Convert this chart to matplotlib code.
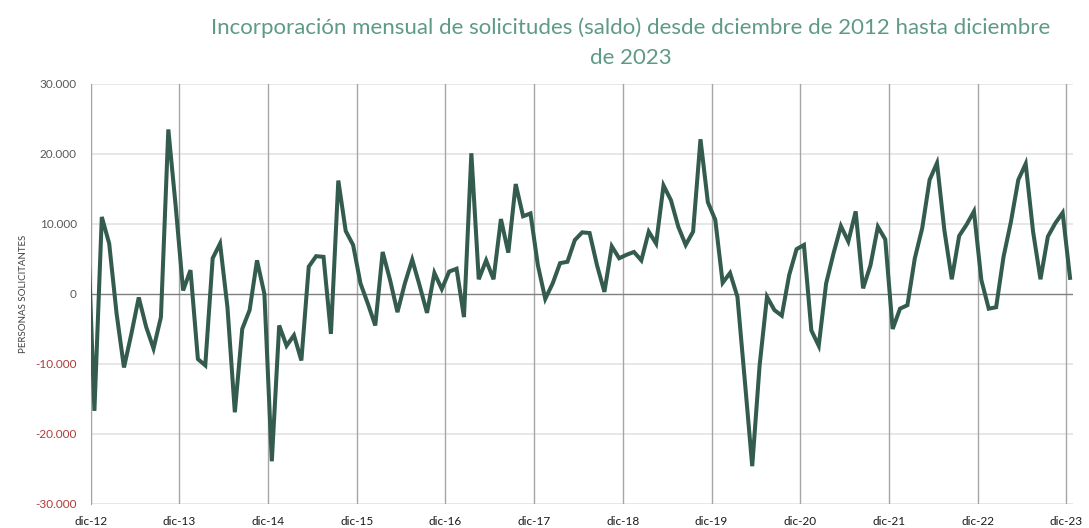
import numpy as np
import matplotlib
matplotlib.use('Agg')
from matplotlib import pyplot as plt
from matplotlib.ticker import FuncFormatter

# saldo mensual (miles de personas), nov-12 .. dic-23
saldo = [
    12.0,
    -16.7, 11.0, 7.2, -2.8, -10.5, -5.7, -0.5, -4.7, -7.8, -3.3, 23.5, 12.5,
    0.5, 3.4, -9.3, -10.2, 5.1, 7.2, -1.9, -16.9, -5.0, -2.3, 4.8, 0.0,
    -23.9, -4.5, -7.4, -5.9, -9.5, 3.9, 5.4, 5.3, -5.7, 16.2, 9.0, 7.0,
    1.5, -1.4, -4.5, 6.0, 2.0, -2.6, 1.5, 4.9, 1.2, -2.7, 3.0, 0.7,
    3.2, 3.6, -3.3, 20.1, 2.1, 4.8, 2.1, 10.7, 5.9, 15.7, 11.1, 11.5,
    4.1, -0.7, 1.5, 4.4, 4.6, 7.7, 8.8, 8.7, 4.1, 0.3, 6.8, 5.1,
    5.6, 6.0, 4.8, 8.9, 7.2, 15.5, 13.4, 9.6, 7.0, 8.9, 22.1, 13.1,
    10.6, 1.6, 3.0, -0.4, -12.4, -24.6, -10.2, -0.4, -2.3, -3.1, 2.7, 6.4,
    7.0, -5.2, -7.4, 1.5, 5.8, 9.7, 7.5, 11.8, 0.8, 4.1, 9.6, 7.8,
    -5.0, -2.1, -1.6, 5.1, 9.4, 16.3, 18.7, 9.1, 2.1, 8.3, 9.9, 11.8,
    2.0, -2.1, -1.9, 5.3, 10.3, 16.3, 18.6, 8.9, 2.1, 8.2, 10.1, 11.6,
    2.3,
]
years = ['dic-12', 'dic-13', 'dic-14', 'dic-15', 'dic-16', 'dic-17',
         'dic-18', 'dic-19', 'dic-20', 'dic-21', 'dic-22', 'dic-23']
yticks = [-30000, -20000, -10000, 0, 10000, 20000, 30000]

vals = np.array(saldo) * 1000
months = np.arange(len(vals))
grid_x = 0.5 + 12 * np.arange(len(years))

plt.rcParams['font.family'] = ['Lato', 'DejaVu Sans']

fig = plt.figure(figsize=(10.89, 5.28), dpi=100)
ax = fig.add_axes([0.0833, 0.0455, 0.902, 0.7955])

for y in yticks:
    if y != 0:
        ax.axhline(y, color='#e3e3e3', lw=1.2, zorder=0)
for gx in grid_x:
    ax.axvline(gx, color='#a6a6a6', lw=1.0, zorder=1)
ax.axhline(0, color='#7f7f7f', lw=1.0, zorder=1)

ax.plot(months, vals, color='#335c4e', lw=2.9, solid_joinstyle='miter', zorder=3)

ax.set_xlim(0.5, 133.4)
ax.set_ylim(-30000, 30000)

ax.set_xticks(grid_x)
ax.set_xticklabels(years)
ax.set_yticks(yticks)

def fmt(v, pos):
    if v == 0:
        return '0'
    return '{:,.0f}'.format(v).replace(',', '.')
ax.yaxis.set_major_formatter(FuncFormatter(fmt))

ax.tick_params(axis='x', length=0, pad=9, labelsize=8.5, colors='#1a1a1a')
ax.tick_params(axis='y', length=0, pad=10, labelsize=8.5, colors='#595959')
for lab, v in zip(ax.get_yticklabels(), yticks):
    if v < 0:
        lab.set_color('#b03a3a')

for s in ['top', 'right', 'bottom']:
    ax.spines[s].set_visible(False)
ax.spines['left'].set_color('#a6a6a6')

ax.set_ylabel('PERSONAS SOLICITANTES', fontsize=7, color='#404040', labelpad=5)

fig.text(0.579, 0.948, 'Incorporación mensual de solicitudes (saldo) desde dciembre de 2012 hasta diciembre',
         ha='center', va='center', fontsize=16, color='#5e9a86')
fig.text(0.579, 0.891, 'de 2023', ha='center', va='center', fontsize=16, color='#5e9a86')

fig.savefig('out.png', dpi=100)
